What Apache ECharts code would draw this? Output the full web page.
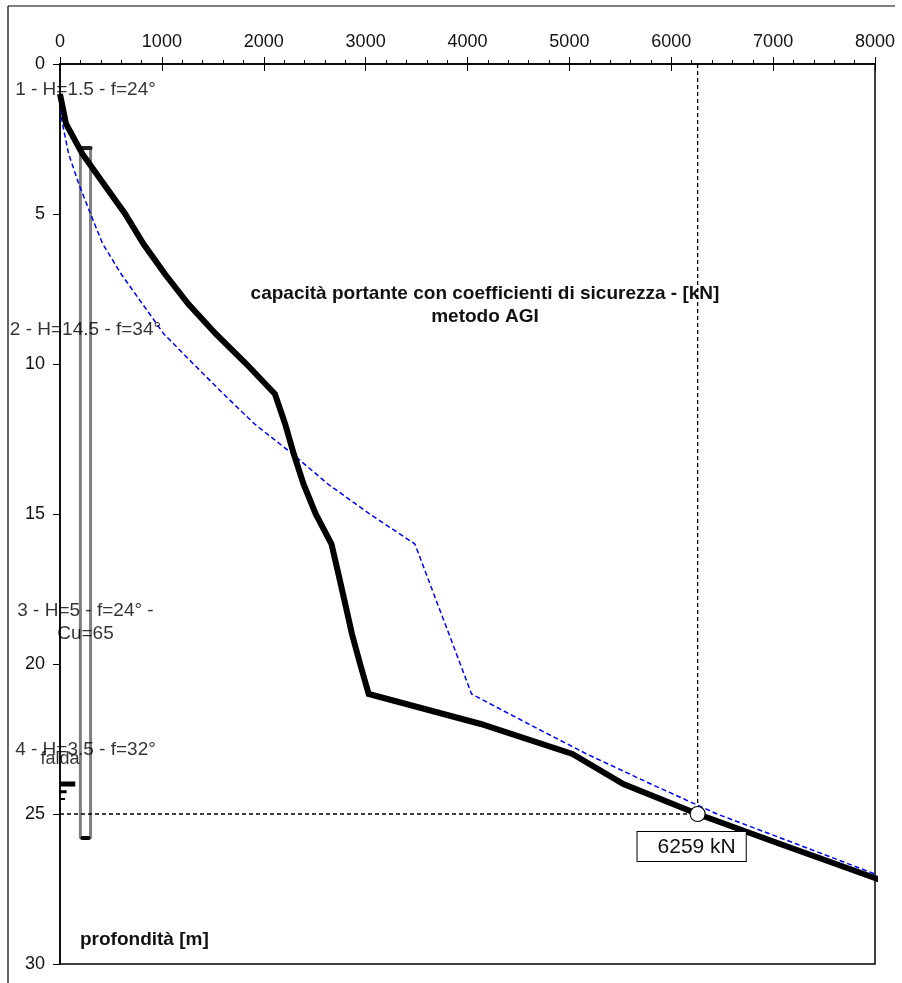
<!DOCTYPE html>
<html>
<head>
<meta charset="utf-8">
<script src="https://cdn.jsdelivr.net/npm/echarts@6/dist/echarts.min.js"></script>
<style>
  html, body { margin: 0; padding: 0; background: #fff; }
  #chart { width: 902px; height: 983px; }
</style>
</head>
<body>
<div id="chart"></div>
<script>
// capacità portante - metodo AGI
const depthBlack = [1, 2, 3, 4, 5, 6, 7, 8, 9, 10, 11, 12, 13, 14, 15, 16, 17, 18, 19, 20, 21, 22, 23, 24, 25, 26, 27, 28]
const capBlack = [0, 60, 220, 430, 640, 820, 1030, 1260, 1530, 1830, 2110, 2210, 2295, 2390, 2510, 2665, 2733, 2800, 2866, 2946, 3030, 4130, 5030, 5530, 6259, 7070, 7890, 8700]

const depthBlue = [1.5, 2, 3, 4, 5, 6, 7, 8, 9, 10, 11, 12, 13, 14, 15, 16, 17, 18, 19, 20, 21, 22, 23, 24, 25, 26, 27, 28]
const capBlue = [0, 25, 85, 185, 300, 420, 600, 810, 1020, 1310, 1605, 1910, 2283, 2630, 3040, 3484, 3595, 3706, 3818, 3929, 4040, 4600, 5170, 5800, 6450, 7230, 8000, 8780]

// palo
const pileX = [200, 300]
const pileTop = 2.8
const pileTip = 25.8

// strati
const layerMid = [0.75, 8.75, 18.5, 22.75]
const layerText = ['1 - H=1.5 - f=24°', '2 - H=14.5 - f=34°', '3 - H=5 - f=24° -\nCu=65', '4 - H=3.5 - f=32°']
const layerLabelX = 250

const waterDepth = 24
const designDepth = 25
const designCap = 6259

const xTicks = { min: 0, max: 8000, interval: 1000 }
const yTicks = { min: 0, max: 30, interval: 5 }

const font = '"Liberation Sans", Arial, sans-serif'

function pairs(xs, ys) {
  return xs.map((x, i) => [x, ys[i]])
}

const chart = echarts.init(document.getElementById('chart'))

chart.setOption({
  animation: false,
  backgroundColor: '#fff',
  grid: {
    left: 60, right: 27, top: 64, bottom: 19,
    show: true, borderColor: '#000', borderWidth: 1.5
  },
  xAxis: [
    {
      type: 'value', position: 'top',
      min: xTicks.min, max: xTicks.max, interval: xTicks.interval,
      axisLine: { show: true, lineStyle: { color: '#000', width: 1.5 } },
      axisTick: { show: true, inside: false, length: 7, lineStyle: { color: '#000', width: 1 } },
      minorTick: { show: true, splitNumber: 5, length: 4, lineStyle: { color: '#000', width: 1 } },
      axisLabel: { color: '#111', fontSize: 18, fontFamily: font, margin: 13, formatter: (v) => String(v) },
      splitLine: { show: false }
    },
    {
      type: 'value', position: 'top',
      min: xTicks.min, max: xTicks.max, interval: xTicks.interval,
      axisLine: { show: false },
      axisTick: { show: true, inside: true, length: 7, lineStyle: { color: '#000', width: 1 } },
      axisLabel: { show: false },
      splitLine: { show: false }
    }
  ],
  yAxis: {
    type: 'value', inverse: true,
    min: yTicks.min, max: yTicks.max, interval: yTicks.interval,
    axisLine: { show: true, lineStyle: { color: '#000', width: 1.5 } },
    axisTick: { show: true, length: 7, lineStyle: { color: '#000', width: 1 } },
    axisLabel: { color: '#111', fontSize: 18, fontFamily: font, margin: 15, formatter: (v) => String(v) },
    splitLine: { show: false }
  },
  graphic: [
    { type: 'line', shape: { x1: 8, y1: 6, x2: 895, y2: 6 }, style: { stroke: '#000', lineWidth: 1.2 } },
    { type: 'line', shape: { x1: 8, y1: 6, x2: 8, y2: 983 }, style: { stroke: '#000', lineWidth: 1.2 } },
    {
      type: 'text', x: 485, y: 282,
      style: {
        text: 'capacità portante con coefficienti di sicurezza - [kN]\nmetodo AGI',
        font: 'bold 19px ' + font, fill: '#111', align: 'center', verticalAlign: 'top', lineHeight: 23
      }
    },
    {
      type: 'text', x: 80, y: 940,
      style: { text: 'profondità [m]', font: 'bold 19px ' + font, fill: '#111', align: 'left', verticalAlign: 'middle' }
    }
  ],
  series: [
    {
      name: 'palo', type: 'line', z: 1, showSymbol: false, silent: true,
      lineStyle: { color: '#808080', width: 3 },
      data: [[pileX[0], pileTop], [pileX[0], pileTip], [pileX[1], pileTip], [pileX[1], pileTop], [pileX[0], pileTop]]
    },
    {
      name: 'testa palo', type: 'line', z: 2, showSymbol: false, silent: true,
      lineStyle: { color: '#222', width: 4, cap: 'round' },
      data: [[pileX[0], pileTop], [pileX[1], pileTop]]
    },
    {
      name: 'punta palo', type: 'line', z: 2, showSymbol: false, silent: true,
      lineStyle: { color: '#000', width: 4, cap: 'round' },
      data: [[pileX[0] + 20, pileTip], [pileX[1] - 20, pileTip]]
    },
    {
      name: 'falda1', type: 'line', z: 2, showSymbol: false, silent: true,
      lineStyle: { color: '#000', width: 5 },
      data: [[0, waterDepth], [150, waterDepth]]
    },
    {
      name: 'falda2', type: 'line', z: 2, showSymbol: false, silent: true,
      lineStyle: { color: '#000', width: 3 },
      data: [[0, waterDepth + 0.26], [65, waterDepth + 0.26]]
    },
    {
      name: 'falda3', type: 'line', z: 2, showSymbol: false, silent: true,
      lineStyle: { color: '#000', width: 2 },
      data: [[0, waterDepth + 0.5], [50, waterDepth + 0.5]]
    },
    {
      name: 'AGI senza coeff', type: 'line', z: 3, showSymbol: false, silent: true,
      lineStyle: { color: '#0000ff', width: 1.5, type: [5, 3] },
      data: pairs(capBlue, depthBlue)
    },
    {
      name: 'AGI', type: 'line', z: 4, showSymbol: false, silent: true,
      lineStyle: { color: '#000', width: 6, join: 'miter' },
      data: pairs(capBlack, depthBlack)
    },
    {
      name: 'rif verticale', type: 'line', z: 5, showSymbol: false, silent: true,
      lineStyle: { color: '#000', width: 1.3, type: [4, 3] },
      data: [[designCap, 0], [designCap, designDepth]]
    },
    {
      name: 'rif orizzontale', type: 'line', z: 5, showSymbol: false, silent: true,
      lineStyle: { color: '#000', width: 1.3, type: [4, 3] },
      data: [[0, designDepth], [designCap, designDepth]]
    },
    {
      name: 'valore', type: 'scatter', z: 6, silent: true,
      symbol: 'circle', symbolSize: 15,
      itemStyle: { color: '#ffffff', borderColor: '#000', borderWidth: 1.2, opacity: 1 },
      label: {
        show: true, position: 'bottom', distance: 10, offset: [-6, 0],
        formatter: (p) => p.value[0] + ' kN',
        color: '#111', fontSize: 21, fontFamily: font,
        backgroundColor: '#fff', borderColor: '#000', borderWidth: 1,
        padding: [5, 10, 3, 20]
      },
      data: [[designCap, designDepth]]
    },
    {
      name: 'strati', type: 'scatter', z: 7, silent: true,
      symbolSize: 0, itemStyle: { color: '#000' },
      label: {
        show: true, position: 'inside', align: 'center', verticalAlign: 'middle', offset: [0, 3],
        formatter: (p) => layerText[p.dataIndex],
        color: '#000', textBorderWidth: 0, fontSize: 19, fontFamily: font, lineHeight: 23
      },
      data: layerMid.map((d) => [layerLabelX, d])
    },
    {
      name: 'falda', type: 'scatter', z: 7, silent: true,
      symbolSize: 0, itemStyle: { color: '#000' },
      label: {
        show: true, position: 'inside', align: 'center', verticalAlign: 'middle', offset: [0, -25],
        formatter: 'falda', color: '#000', textBorderWidth: 0, fontSize: 18, fontFamily: font
      },
      data: [[0, waterDepth]]
    }
  ]
})
</script>
</body>
</html>
